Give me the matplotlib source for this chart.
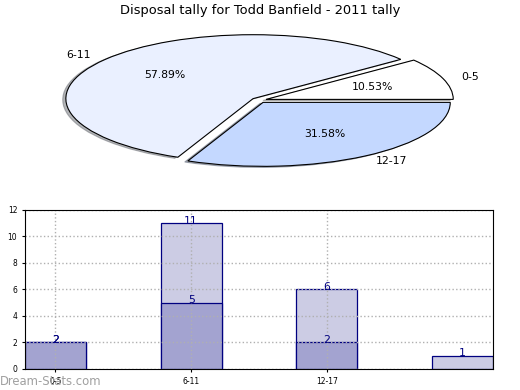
import matplotlib
matplotlib.use("Agg")
import matplotlib.pyplot as plt

# pie data
pie_labels = ['0-5', '6-11', '12-17']
pie_values = [2, 11, 6]
pie_colors = ['#ffffff', '#eaf0ff', '#c4d8ff']

# bar data
bar_ticks = ['0-5', '6-11', '12-17']
light_vals = [2, 11, 6, 1]
dark_vals = [2, 5, 2, 0]

fig = plt.figure(figsize=(5.2, 3.9), dpi=100)

# Pie
ax1 = fig.add_axes([0.048, 0.538, 0.9, 0.41])
wedges, texts, autotexts = ax1.pie(
    pie_values, labels=pie_labels, colors=pie_colors, autopct='%.2f%%',
    explode=[0.04, 0.04, 0.04],
    shadow={'ox': -0.012, 'oy': -0.012, 'shade': 0.55}, startangle=0,
    wedgeprops={'edgecolor': 'black', 'linewidth': 0.8},
    textprops={'fontsize': 7.8})
ax1.set_aspect('auto')
ax1.set_xlim(-1.25, 1.25)
ax1.set_ylim(-1.25, 1.25)
fig.text(0.5, 0.972, "Disposal tally for Todd Banfield - 2011 tally",
         ha='center', va='center', fontsize=9.4)

# Bars
ax2 = fig.add_axes([0.048, 0.054, 0.9, 0.408])
x = range(len(light_vals))
ax2.bar(x, light_vals, width=0.45, color='#ccccE4', edgecolor='#000080', linewidth=0.9)
ax2.bar(x[:3], dark_vals[:3], width=0.45, color='#a3a3d0', edgecolor='#000080', linewidth=0.9)
for i, v in enumerate(light_vals):
    ax2.text(i, v - 0.2, str(v), ha='center', va='bottom', color='#000080', fontsize=7.8)
for i, v in enumerate(dark_vals[:3]):
    ax2.text(i, v - 0.2, str(v), ha='center', va='bottom', color='#000080', fontsize=7.8)

ax2.set_xlim(-0.225, 3.225)
ax2.set_ylim(0, 12)
ax2.set_xticks(range(len(bar_ticks)))
ax2.set_xticklabels(bar_ticks)
ax2.set_yticks(range(0, 13, 2))
ax2.tick_params(labelsize=5.5, length=2)
ax2.grid(True, linestyle=':', color='#b0b0b0', linewidth=1)
ax2.set_axisbelow(False)
for sp in ax2.spines.values():
    sp.set_zorder(5)
ax2.set_ylabel("Stat Intervals", fontsize=7.5, labelpad=4)
ax2.set_xlabel("Frequency", fontsize=7.5, labelpad=3)

fig.text(0.0, 0.006, "Dream-Stats.com", color='#a0a0a0', fontsize=8.4,
         ha='left', va='bottom')

plt.savefig("out.png", dpi=100)
